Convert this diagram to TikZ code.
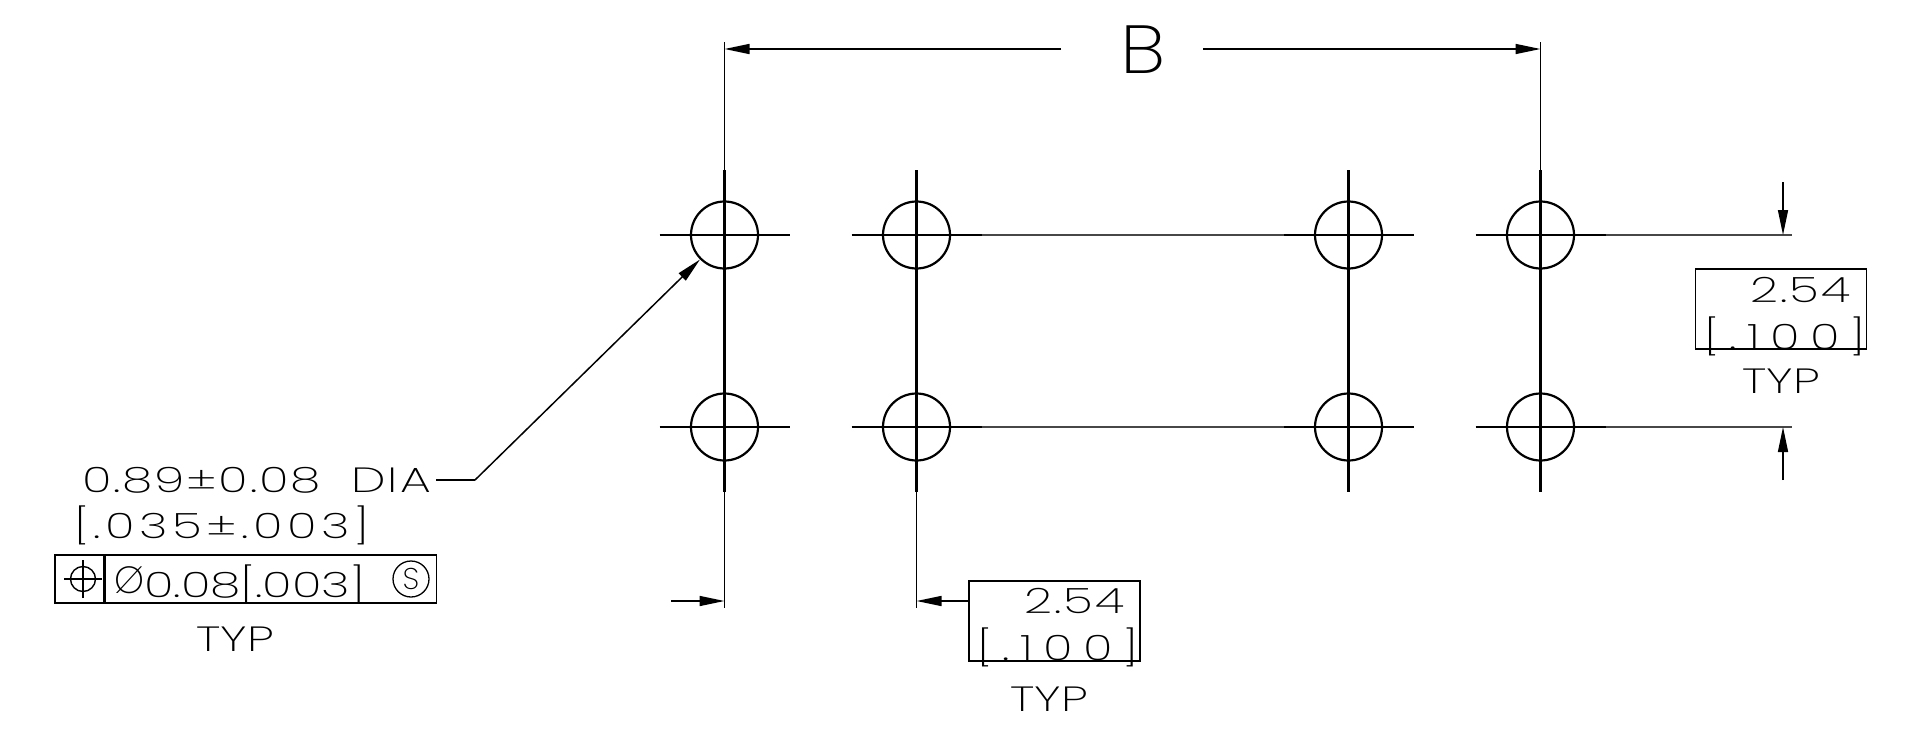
\documentclass[tikz,border=0pt]{standalone}
\usepackage{fontspec}
\setmainfont[FakeStretch=1.4]{Poppins ExtraLight}
\usetikzlibrary{arrows.meta, positioning}

\tikzset{
  hole/.style={circle, draw, line width=2.2pt, minimum size=67pt, inner sep=0pt},
  crossline/.style={line width=2.4pt},
  centerline/.style={line width=2.1pt},
  thinline/.style={line width=1.8pt, black!72},
  extline/.style={line width=1.6pt},
  dimarrow/.style={line width=1.5pt, -{Triangle[length=25pt,width=10pt]}},
  dimbox/.style={draw, line width=1.5pt, minimum width=171pt, minimum height=80pt, inner sep=0pt},
  dimtext/.style={inner sep=0pt, font=\fontsize{35}{35}\selectfont},
  spaced/.style={dimtext, execute at begin node={\addfontfeature{LetterSpace=#1}}}
}

\begin{document}
\begin{tikzpicture}[x=1pt, y=-1pt]
  \useasboundingbox (0,0) rectangle (1908,741);

  % holes
  \node (h1) [hole] at (724.5,235) {};
  \node (h2) [hole, right=192pt of h1.center, anchor=center] {};
  \node (h3) [hole, right=432pt of h2.center, anchor=center] {};
  \node (h4) [hole, right=192pt of h3.center, anchor=center] {};
  \node (h5) [hole, below=192pt of h1.center, anchor=center] {};
  \node (h6) [hole, below=192pt of h2.center, anchor=center] {};
  \node (h7) [hole, below=192pt of h3.center, anchor=center] {};
  \node (h8) [hole, below=192pt of h4.center, anchor=center] {};

  % center lines
  \foreach \n in {h1,h2,h3,h4,h5,h6,h7,h8}
    \draw [crossline] ([xshift=-65pt]\n.center) -- ([xshift=65pt]\n.center);
  \foreach \t/\b in {h1/h5,h2/h6,h3/h7,h4/h8}
    \draw [centerline] ([yshift=65pt]\t.center) -- ([yshift=-65pt]\b.center);

  % extension lines
  \coordinate (t1) at ([yshift=193pt]h1.center);
  \coordinate (t4) at ([yshift=193pt]h4.center);
  \coordinate (f5) at ([yshift=-181pt]h5.center);
  \coordinate (f6) at ([yshift=-181pt]h6.center);
  \coordinate (e4) at ([xshift=251pt]h4.center);
  \coordinate (e8) at ([xshift=251pt]h8.center);
  \draw [extline] ([yshift=65pt]h1.center) -- (t1);
  \draw [extline] ([yshift=65pt]h4.center) -- (t4);
  \draw [extline] ([yshift=-65pt]h5.center) -- (f5);
  \draw [extline] ([yshift=-65pt]h6.center) -- (f6);
  \draw [thinline] ([xshift=65pt]h2.center) -- ([xshift=-65pt]h3.center);
  \draw [thinline] ([xshift=65pt]h6.center) -- ([xshift=-65pt]h7.center);
  \draw [thinline] ([xshift=65pt]h4.center) -- (e4);
  \draw [thinline] ([xshift=65pt]h8.center) -- (e8);

  % dimension B
  \node (dimB) [inner sep=0pt, font=\fontsize{68}{68}\selectfont, execute at begin node={\addfontfeature{FakeStretch=1.15}}] at (1143,50) {B};
  \coordinate (bL) at (1061,49);
  \coordinate (bR) at (1203,49);
  \draw [dimarrow] (bL) -- (bL -| h1);
  \draw [dimarrow] (bR) -- (bR -| h4);

  % pitch, bottom
  \node (boxA) [dimbox] at (1054.5,621) {};
  \node (a1) [spaced=6, anchor=east] at (1125,601) {2.54};
  \node (a2) [spaced=30] at (1058,647) {[.100]};
  \node (a3) [dimtext] at (1049,699) {TYP};
  \coordinate (s1) at (671,601);
  \draw [dimarrow] (s1) -- (s1 -| h5);
  \draw [dimarrow] (boxA.west |- s1) -- (s1 -| h6);

  % pitch, right
  \node (boxB) [dimbox] at (1781,309) {};
  \node (b1) [spaced=6, anchor=east] at (1851,290) {2.54};
  \node (b2) [spaced=30] at (1785,336) {[.100]};
  \node (b3) [dimtext] at (1781,381) {TYP};
  \coordinate (s2) at (1783,182);
  \coordinate (s3) at (1783,480);
  \draw [dimarrow] (s2) -- (s2 |- h4);
  \draw [dimarrow] (s3) -- (s3 |- h8);

  % hole callout
  \node (dia) [spaced=5, anchor=east] at (431,480) {0.89±0.08 \ DIA};
  \node (tol) [spaced=13] at (222,525) {[.035±.003]};
  \coordinate (knee) at (475,480);
  \draw [line width=1.5pt] ([xshift=5pt]dia.east) -- (knee);
  \draw [dimarrow] (knee) -- (h1.225);

  % position frame
  \node (frameA) [draw, line width=1.5pt, minimum width=49pt, minimum height=48pt, inner sep=0pt] at (79.5,579) {};
  \node (frameB) [draw, line width=1.5pt, minimum width=331pt, minimum height=48pt, inner sep=0pt, right=0pt of frameA] {};
  \node (sym) [circle, draw, line width=1.4pt, minimum size=25pt, inner sep=0pt] at (83,579) {};
  \draw [line width=1.4pt] ([xshift=-19pt]sym.center) -- ([xshift=19pt]sym.center);
  \draw [line width=1.4pt] ([yshift=-19pt]sym.center) -- ([yshift=19pt]sym.center);
  \node (dsym) [inner sep=0pt, font=\fontsize{38}{38}\selectfont, execute at begin node={\addfontfeature{FakeStretch=1.0}}] at (130,580) {Ø};
  \node (tval) [dimtext, anchor=west] at (144,584) {0.08[.003]};
  \node (mod) [circle, draw, line width=1.3pt, minimum size=36pt, inner sep=0pt, font=\fontsize{30}{30}\selectfont, execute at begin node={\addfontfeature{FakeStretch=1.0}}] at (411,579) {S};
  \node (c3) [dimtext] at (235,639) {TYP};
\end{tikzpicture}
\end{document}
